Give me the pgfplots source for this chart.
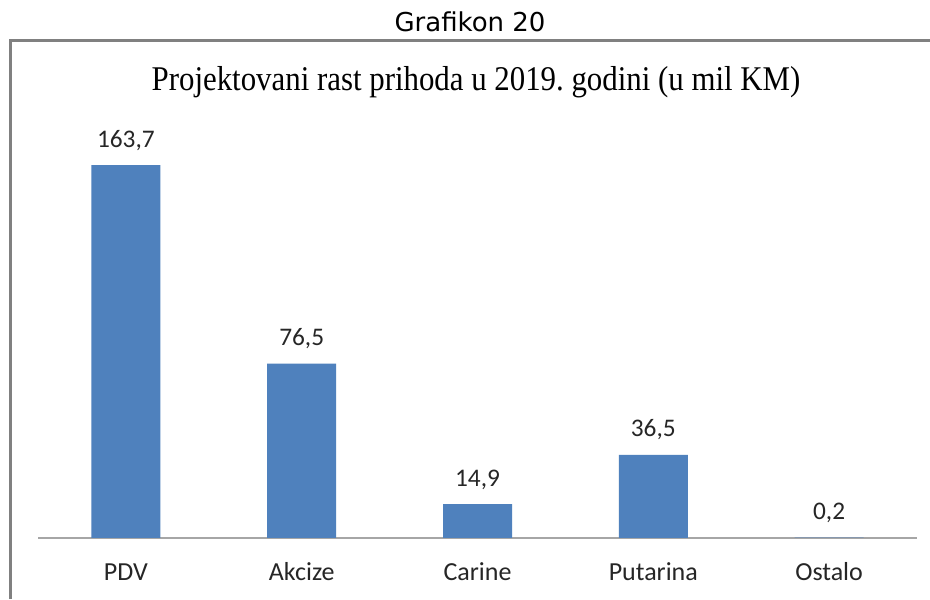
\documentclass[border=0pt]{standalone}
\usepackage{fontspec}
\setmainfont{Carlito}
\newfontfamily\titlefont[FakeStretch=0.89]{Liberation Serif}
\newfontfamily\headfont{DejaVu Sans}
\newfontfamily\lblfont{Carlito}
\usepackage{pgfplots}
\pgfplotsset{compat=1.18}
\definecolor{barblue}{HTML}{4F81BD}
\definecolor{framegray}{HTML}{808080}
\definecolor{axisgray}{HTML}{A6A6A6}

\begin{document}
\begin{tikzpicture}
\useasboundingbox (0,0) rectangle (697.5pt,449.25pt);
\fill[white] (0,0) rectangle (697.5pt,449.25pt);
% frame of the chart (top and left edges visible)
\draw[framegray, line width=2.25pt] (7.5pt,0) -- (7.5pt,418.875pt) -- (697.5pt,418.875pt);
\node[anchor=base, inner sep=0pt, font=\headfont\fontsize{19.5pt}{23pt}\selectfont]
  at (352.5pt,425.25pt) {Grafikon 20};
\node[anchor=base, inner sep=0pt, font=\titlefont\fontsize{26pt}{30pt}\selectfont]
  at (357pt,381pt) {Projektovani rast prihoda u 2019.\ godini (u mil KM)};
\begin{axis}[
  at={(28.5pt,45.75pt)}, anchor=south west,
  width=659.25pt, height=307.5pt, scale only axis,
  xmin=-0.5, xmax=4.5, ymin=0, ymax=180,
  axis y line=none, axis x line=bottom,
  x axis line style={-, axisgray, line width=1.5pt},
  xtick={0,...,4},
  xticklabels={PDV,Akcize,Carine,Putarina,Ostalo},
  major tick length=0pt,
  xticklabel style={anchor=base, inner sep=0pt, yshift=-31.5pt,
    font=\lblfont\fontsize{19.5pt}{23pt}\selectfont, text=black!85},
  ytick=\empty,
  ybar, bar width=51.75pt,
  nodes near coords, point meta=explicit symbolic,
  every node near coord/.append style={anchor=base, inner sep=0pt, yshift=13.5pt,
    font=\lblfont\fontsize{19pt}{22pt}\selectfont, text=black!85},
  clip=false,
]
\addplot[fill=barblue, draw=none] coordinates {
  (0,163.7) [163,7]
  (1,76.5) [76,5]
  (2,14.9) [14,9]
  (3,36.5) [36,5]
  (4,0.2) [0,2]
};
\end{axis}
\end{tikzpicture}
\end{document}
